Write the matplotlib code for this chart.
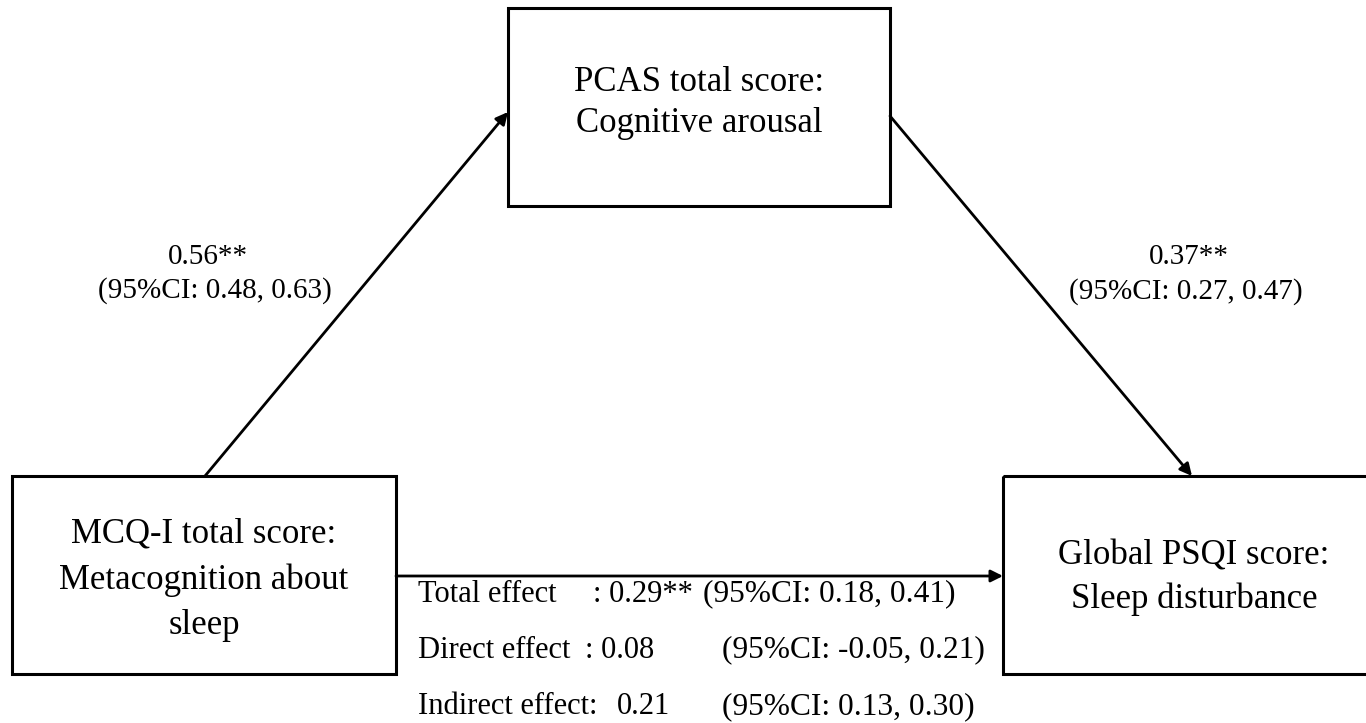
import matplotlib.pyplot as plt
from matplotlib.patches import Rectangle

plt.rcParams['font.family'] = ['Liberation Serif', 'DejaVu Serif']

# Node labels
mediator_label = "PCAS total score:\nCognitive arousal"
predictor_label = "MCQ-I total score:\nMetacognition about\nsleep"
outcome_label = "Global PSQI score:\nSleep disturbance"

# Path coefficients
path_a = ["0.56**", "(95%CI: 0.48, 0.63)"]
path_b = ["0.37**", "(95%CI: 0.27, 0.47)"]

# Effects table
effect_names = ["Total effect", "Direct effect", "Indirect effect:"]
effect_values = [": 0.29**", ": 0.08", "0.21"]
effect_cis = ["(95%CI: 0.18, 0.41)", "(95%CI: -0.05, 0.21)", "(95%CI: 0.13, 0.30)"]

fig = plt.figure(figsize=(13.66, 7.23), dpi=100)
ax = fig.add_axes([0, 0, 1, 1])
ax.set_xlim(0, 1366)
ax.set_ylim(723, 0)
ax.axis('off')

# boxes: (x0, y0, x1, y1), text centre y, line spacing
# the right box runs past the right edge of the picture
boxes = [((508, 8, 890, 206), mediator_label, 103, 1.34),
         ((12, 476, 396, 674), predictor_label, 580, 1.5),
         ((1003, 476, 1385, 674), outcome_label, 578, 1.41)]

for (x0, y0, x1, y1), label, ty, ls in boxes:
    ax.add_patch(Rectangle((x0, y0), x1 - x0, y1 - y0, fill=False,
                           edgecolor='black', linewidth=2.2))
    ax.text((x0 + x1) / 2, ty, label, ha='center', va='center',
            fontsize=25, linespacing=ls)

arrow_kw = dict(arrowstyle='-|>', color='black', lw=2, mutation_scale=18,
                shrinkA=0, shrinkB=0)
ax.annotate('', xy=(508, 112), xytext=(205, 476), arrowprops=arrow_kw)
ax.annotate('', xy=(1192, 476), xytext=(890, 116), arrowprops=arrow_kw)
ax.annotate('', xy=(1003, 576), xytext=(396, 576), arrowprops=arrow_kw)

# path labels
ax.text(208, 257, path_a[0], ha='center', va='center', fontsize=21)
ax.text(215, 291, path_a[1], ha='center', va='center', fontsize=21)
ax.text(1189, 257, path_b[0], ha='center', va='center', fontsize=21)
ax.text(1186, 292, path_b[1], ha='center', va='center', fontsize=21)

# effects
row_y = [594, 650, 707]
value_x = [593, 585, 617]
ci_x = [703, 722, 722]
for i in range(3):
    ax.text(418, row_y[i], effect_names[i], ha='left', va='center', fontsize=22)
    ax.text(value_x[i], row_y[i], effect_values[i], ha='left', va='center', fontsize=22)
    ax.text(ci_x[i], row_y[i], effect_cis[i], ha='left', va='center', fontsize=22.6)

fig.savefig('out.png', dpi=100)
